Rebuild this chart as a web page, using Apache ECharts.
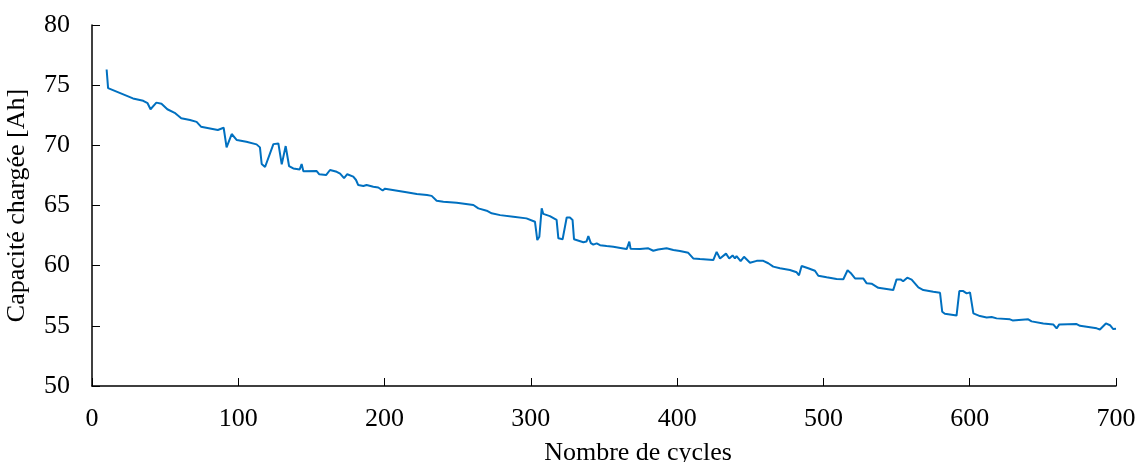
<!DOCTYPE html>
<html>
<head>
<meta charset="utf-8">
<script src="https://cdn.jsdelivr.net/npm/echarts@6/dist/echarts.min.js"></script>
<style>
html,body{margin:0;padding:0;background:#fff;}
#chart{width:1139px;height:462px;}
</style>
</head>
<body>
<div id="chart"></div>
<script>
const cycles = [10,11,28,35,38,40,44,47.5,51.5,56.5,61,67,71.5,74.5,86,90,92,95.5,99,105.5,112.5,114.8,116,118.3,124,127.4,128.5,129.7,131,132.4,133.5,134.7,137.6,142,143.3,144.5,153.6,155.4,160,162.7,167.3,169.6,172.3,174.5,178.6,180.5,182,185.5,187.7,192.3,195.7,196.8,198.7,200.3,215,222,229,232.2,235.6,240.2,249.3,260.7,264.1,269.8,273.2,279,288,297,302.8,304.4,305.8,307.4,308.5,313,317.6,318.8,321.7,324.5,326.7,328.5,329.5,335.9,338,339.3,341,342.7,345,347.3,351.8,356.4,363.2,365.5,367.3,368.2,374.6,380.3,381.5,383.7,387,392.8,397.4,401.9,407.6,411,415.6,424.7,427,429.3,433.4,435.6,437.9,439.5,440.6,443.4,445.7,449.8,454.4,458.9,462.3,465.7,470.3,477.1,481.7,483.3,485.1,489.6,494.2,496.5,502.2,509,513.6,516.5,518.6,521.6,527.2,529.6,532.9,537.5,547.7,550,552.7,554.5,557.3,560.3,564.9,568.3,575.1,579.7,581.2,583,588.8,591,592.9,595.6,597.9,600.2,601.3,602.5,607,611.6,615,618.4,627.5,629.3,640,642.3,650.3,657.1,659.4,661.2,673.1,675.4,686.8,689,693.1,695.9,698.1,700];
const capacity = [76.3,74.75,73.9,73.7,73.5,73.0,73.55,73.45,73.0,72.7,72.25,72.1,71.95,71.55,71.27,71.46,69.83,70.94,70.44,70.3,70.08,69.83,68.45,68.2,70.1,70.16,70.0,68.42,68.4,69.94,69.8,68.28,68.08,68.0,68.45,67.85,67.86,67.59,67.53,67.95,67.8,67.65,67.28,67.6,67.4,67.12,66.7,66.62,66.7,66.56,66.5,66.55,66.25,66.4,66.1,65.95,65.87,65.8,65.4,65.32,65.23,65.04,64.76,64.57,64.35,64.2,64.07,63.93,63.65,62.13,62.4,64.76,64.3,64.12,63.8,62.27,62.2,64.0,64.0,63.8,62.2,61.95,62.0,62.45,61.88,61.75,61.85,61.7,61.63,61.57,61.43,61.38,62.0,61.4,61.38,61.44,61.5,61.24,61.35,61.44,61.3,61.22,61.07,60.6,60.55,60.47,61.15,60.6,61.0,60.6,60.85,60.6,60.8,60.38,60.74,60.24,60.4,60.4,60.2,59.92,59.78,59.64,59.45,59.2,59.97,59.78,59.58,59.16,59.03,58.89,58.87,59.62,59.4,58.94,58.94,58.53,58.5,58.16,57.97,58.86,58.86,58.7,59.0,58.84,58.19,57.97,57.83,57.75,56.17,56.0,55.9,55.85,57.89,57.89,57.7,57.78,57.7,56.04,55.81,55.7,55.73,55.62,55.54,55.45,55.54,55.37,55.2,55.12,54.79,55.12,55.15,55.0,54.79,54.7,55.2,55.05,54.73,54.75];
const xTicks = [0,100,200,300,400,500,600,700];
const yTicks = [50,55,60,65,70,75,80];
const xTitle = 'Nombre de cycles';
const yTitle = 'Capacité chargée [Ah]';

const font = '"Liberation Serif", "Times New Roman", serif';
const chart = echarts.init(document.getElementById('chart'), null, {renderer: 'canvas'});
chart.setOption({
  animation: false,
  backgroundColor: '#ffffff',
  grid: {left: 92, right: 23, top: 25, bottom: 76, containLabel: false, outerBoundsMode: 'none'},
  xAxis: {
    type: 'value', min: xTicks[0], max: xTicks[xTicks.length - 1], interval: 100,
    name: xTitle, nameLocation: 'middle', nameGap: 54,
    nameTextStyle: {fontFamily: font, fontSize: 26, color: '#000', padding: [0, 0, 0, 68]},
    axisLine: {show: true, lineStyle: {color: '#000', width: 1.5}},
    axisTick: {show: true, inside: true, length: 8, lineStyle: {color: '#000', width: 1}},
    axisLabel: {fontFamily: font, fontSize: 26, color: '#000', margin: 20},
    splitLine: {show: false}
  },
  yAxis: {
    type: 'value', min: yTicks[0], max: yTicks[yTicks.length - 1], interval: 5,
    name: yTitle, nameLocation: 'middle', nameGap: 62, nameRotate: 90,
    nameTextStyle: {fontFamily: font, fontSize: 26, color: '#000'},
    axisLine: {show: true, lineStyle: {color: '#000', width: 1.5}},
    axisTick: {show: true, inside: true, length: 8, lineStyle: {color: '#000', width: 1}},
    axisLabel: {fontFamily: font, fontSize: 26, color: '#000', margin: 22},
    splitLine: {show: false}
  },
  series: [{
    type: 'line',
    data: cycles.map((c, i) => [c, capacity[i]]),
    showSymbol: false,
    lineStyle: {color: '#0070C0', width: 2},
    itemStyle: {color: '#0070C0'}
  }]
});
</script>
</body>
</html>
